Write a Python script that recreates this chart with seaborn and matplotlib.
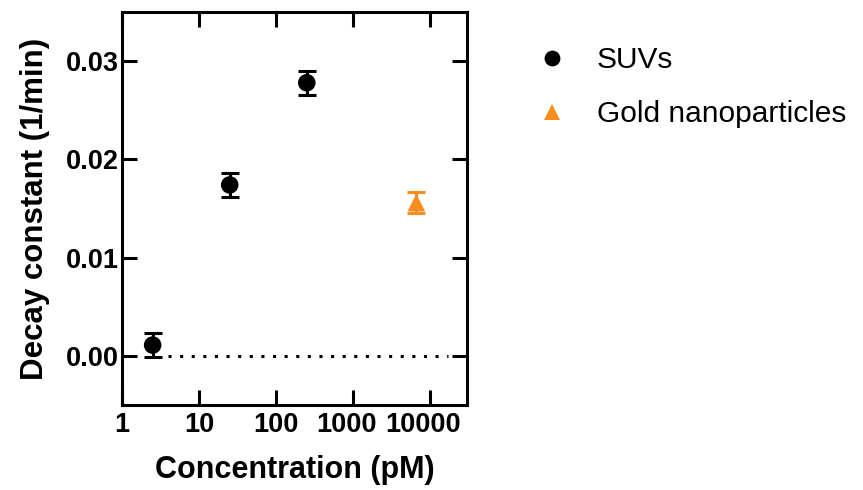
#!/usr/bin/env python3

# Libraries
import seaborn as sns
import pandas as pd
from matplotlib import pyplot as plt
from matplotlib import transforms
import numpy as np

# Data
samples = ['SUVs', 'SUVs', 'SUVs', 'Gold nanoparticles']
conc_pM = [2.5, 25, 250, 6600]
decay_k = [0.0011, 0.0174, 0.0278, 0.0156]
decay_err = [0.00125, 0.0012, 0.0012, 0.0011]

x_ticks = [1, 10, 100, 1000, 10000]
x_ticklabels = ['1', '10', '100', '1000', '10000']
y_ticks = [0.00, 0.01, 0.02, 0.03]
y_ticklabels = ['0.00', '0.01', '0.02', '0.03']

colors = {'SUVs': 'black', 'Gold nanoparticles': '#F88D1E'}
markers = {'SUVs': 'o', 'Gold nanoparticles': '^'}


def plot_decay():
    df = pd.DataFrame({'sample': samples, 'conc': conc_pM,
                       'k': decay_k, 'err': decay_err})

    sns.set_style('ticks')
    plt.rcParams['font.family'] = ['Liberation Sans', 'DejaVu Sans']
    for key in ['text.color', 'axes.labelcolor', 'xtick.color', 'ytick.color', 'axes.edgecolor']:
        plt.rcParams[key] = 'black'

    fig = plt.figure(figsize=(8.63, 4.9), dpi=100)
    ax = fig.add_axes([122 / 863, 1 - 405 / 490, 345 / 863, 393 / 490])

    # reference line at zero
    ax.hlines(0, 4, 17000, colors='black', linestyles=(0, (1, 2.8)), linewidth=2.2, zorder=1)

    for name, sub in df.groupby('sample'):
        ax.errorbar(sub['conc'], sub['k'], yerr=sub['err'], fmt='none',
                    ecolor=colors[name], elinewidth=2.2, capsize=6.5, capthick=2.2, zorder=2)

    sns.scatterplot(data=df, x='conc', y='k', hue='sample', style='sample',
                    palette=colors, markers=markers, s=160, linewidth=0,
                    hue_order=['SUVs', 'Gold nanoparticles'],
                    style_order=['SUVs', 'Gold nanoparticles'],
                    ax=ax, zorder=3, legend=True)

    ax.set_xscale('log')
    ax.set_xlim(1, 30000)
    ax.set_ylim(-0.005, 0.035)
    ax.set_xticks(x_ticks)
    ax.set_xticklabels(x_ticklabels)
    ax.set_yticks(y_ticks)
    ax.set_yticklabels(y_ticklabels)
    ax.minorticks_off()

    ax.tick_params(direction='in', length=11, width=2.2, top=True, right=True,
                   labelsize=19.5, pad=2)
    ax.tick_params(axis='x', pad=5)
    for lab in ax.get_xticklabels() + ax.get_yticklabels():
        lab.set_fontweight('bold')
    # nudge the crowded labels apart like the original
    for lab in ax.get_xticklabels()[3:]:
        lab.set_transform(lab.get_transform() + transforms.ScaledTranslation(-0.07, 0, fig.dpi_scale_trans))

    for side in ['left', 'right', 'top', 'bottom']:
        ax.spines[side].set_linewidth(2.2)

    ax.set_xlabel('Concentration (pM)', fontsize=22, fontweight='bold', labelpad=12)
    ax.set_ylabel('Decay constant (1/min)', fontsize=22.5, fontweight='bold', labelpad=12)

    leg = ax.legend(loc='upper left', bbox_to_anchor=(537 / 863, 1 - 46 / 490),
                    bbox_transform=fig.transFigure, frameon=False, fontsize=21.5,
                    handlelength=1.0, handletextpad=1.0, labelspacing=0.88,
                    markerscale=0.9, borderpad=0, borderaxespad=0)
    for h in leg.legend_handles:
        h.set_linewidth(0)

    fig.savefig('out.png', dpi=100)


if __name__ == '__main__':
    plot_decay()
